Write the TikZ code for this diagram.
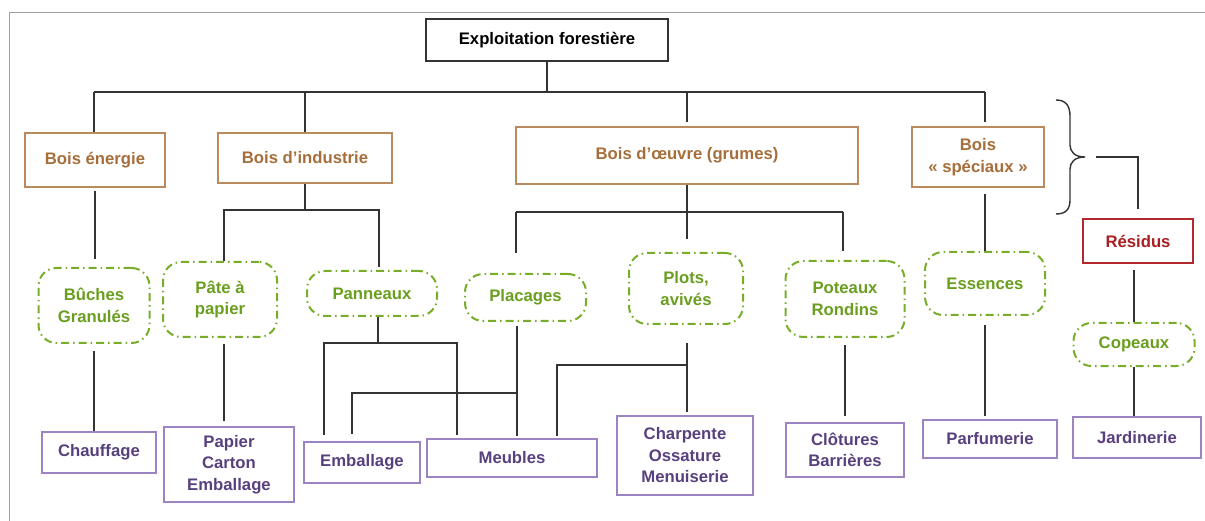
\documentclass[tikz,border=0pt]{standalone}
\usepackage{fontspec}
\setmainfont{Liberation Sans}
\usetikzlibrary{calc}
\definecolor{brn}{HTML}{A66E3A}
\definecolor{brnb}{HTML}{B88A5E}
\definecolor{grn}{HTML}{6A9E1F}
\definecolor{grnb}{HTML}{78AD2A}
\definecolor{pur}{HTML}{58407E}
\definecolor{purb}{HTML}{9C84C2}
\definecolor{rdt}{HTML}{A81E22}
\definecolor{rdb}{HTML}{B3282C}
\definecolor{ln}{HTML}{333333}
\definecolor{frm}{HTML}{A0A0A0}
\begin{document}
\begin{tikzpicture}[x=1pt,y=-1pt,
 txt/.style={font=\bfseries\fontsize{16.7}{21.5}\selectfont, align=center, inner sep=0pt},
 rootbox/.style={txt, draw=ln, line width=1.5pt, text=black},
 brownbox/.style={txt, draw=brnb, line width=1.5pt, text=brn},
 greenbox/.style={txt, draw=grnb, line width=2pt, text=grn, rounded corners=18pt, dash pattern=on 8pt off 4pt on 1.5pt off 4pt},
 purplebox/.style={txt, draw=purb, line width=1.5pt, text=pur},
 redbox/.style={txt, draw=rdb, line width=1.8pt, text=rdt},
 conn/.style={draw=ln, line width=1.5pt},
]
\useasboundingbox (0,0) rectangle (1205,521);
\draw[frm, line width=0.8pt] (9,521) -- (9,12.5) -- (1205,12.5);

% level 0 and 1
\node[rootbox, minimum width=242pt, minimum height=42pt] (root) at (547,40) {Exploitation forestière};
\node[brownbox, minimum width=140pt, minimum height=54pt] (BE) at (95,160) {Bois énergie};
\node[brownbox, minimum width=174pt, minimum height=50pt] (BI) at (305,158) {Bois d’industrie};
\node[brownbox, minimum width=342pt, minimum height=57pt] (BO) at (687,155.5) {Bois d’œuvre (grumes)};
\node[brownbox, minimum width=132pt, minimum height=60pt] (BS) at (978,157) {Bois\\« spéciaux »};
\node[redbox, minimum width=110pt, minimum height=44pt] (RES) at (1138,241) {Résidus};

% level 2 (green)
\node[greenbox, minimum width=111pt, minimum height=75pt] (G1) at (94,305.5) {Bûches\\Granulés};
\node[greenbox, minimum width=114pt, minimum height=75pt] (G2) at (220,299.5) {Pâte à\\papier};
\node[greenbox, minimum width=130pt, minimum height=45pt] (G3) at (372,293.5) {Panneaux};
\node[greenbox, minimum width=121pt, minimum height=47pt] (G4) at (525.5,297.5) {Placages};
\node[greenbox, minimum width=114pt, minimum height=71pt] (G5) at (686,288.5) {Plots,\\avivés};
\node[greenbox, minimum width=119pt, minimum height=76pt] (G6) at (845,299) {Poteaux\\Rondins};
\node[greenbox, minimum width=120pt, minimum height=63pt] (G7) at (985,283.5) {Essences};
\node[greenbox, minimum width=121pt, minimum height=43pt] (G8) at (1134,344.5) {Copeaux};

% level 3 (purple)
\node[purplebox, minimum width=114pt, minimum height=41pt] (P1) at (99,452.5) {Chauffage};
\node[purplebox, minimum width=130pt, minimum height=75pt] (P2) at (229,464.5) {Papier\\Carton\\Emballage};
\node[purplebox, minimum width=116pt, minimum height=41pt] (P3) at (362,462.5) {Emballage};
\node[purplebox, minimum width=170pt, minimum height=38pt] (P4) at (512,458) {Meubles};
\node[purplebox, minimum width=136pt, minimum height=79pt] (P5) at (685,455.5) {Charpente\\Ossature\\Menuiserie};
\node[purplebox, minimum width=118pt, minimum height=54pt] (P6) at (845,450) {Clôtures\\Barrières};
\node[purplebox, minimum width=134pt, minimum height=38pt] (P7) at (990,439) {Parfumerie};
\node[purplebox, minimum width=128pt, minimum height=41pt] (P8) at (1137,437.5) {Jardinerie};

% top bus
\coordinate (busL) at (94,92);
\coordinate (busR) at (985,92);
\draw[conn] (root.south) -- (root.south |- busL);
\draw[conn] (busL) -- (busR);
\draw[conn] (busL) -- (busL |- BE.north);
\draw[conn] (BI.north |- busL) -- (BI.north);
\draw[conn, shorten >=4pt] (BO.north |- busL) -- (BO.north);
\draw[conn, shorten >=4pt] (busR) -- (busR |- BS.north);

% Bois energie -> Buches
\draw[conn, shorten <=3pt, shorten >=8pt] (BE.south) -- (BE.south |- G1.north);

% Bois d'industrie
\coordinate (biL) at (224,210);
\coordinate (biR) at (379,210);
\draw[conn] (BI.south) -- (BI.south |- biL);
\draw[conn, shorten >=3pt] (biL |- G2.north) -- (biL) -- (biR) -- (biR |- G3.north);

% Bois d'oeuvre
\coordinate (boL) at (516,212);
\coordinate (boR) at (843,212);
\draw[conn] (BO.south) -- (BO.south |- boL);
\draw[conn] (boL) -- (boR);
\draw[conn, shorten >=20pt] (boL) -- (boL |- G4.north);
\draw[conn, shorten >=13pt] (BO.south |- boL) -- (BO.south |- G5.north);
\draw[conn, shorten >=9pt] (boR) -- (boR |- G6.north);

% Bois speciaux -> Essences
\draw[conn, shorten <=6pt] (G7.north |- BS.south) -- (G7.north);

% brace and Residus
\draw[ln, line width=1.4pt] (1056,100) .. controls (1066,100) and (1070,106) .. (1070,116) -- (1070,145)
  .. controls (1070,152) and (1075,157) .. (1085,157)
  .. controls (1075,157) and (1070,162) .. (1070,169) -- (1070,200)
  .. controls (1070,209) and (1066,214) .. (1056,214);
\coordinate (bt) at (1096,157);
\draw[conn, shorten >=9pt] (bt) -| (RES.north);
\draw[conn, shorten <=6pt] (G8.north |- RES.south) -- (G8.north);

% green -> purple
\draw[conn, shorten <=7pt] (G1.south) -- (G1.south |- P1.north);
\draw[conn, shorten <=6pt, shorten >=5pt] (biL |- G2.south) -- (biL |- P2.north);

\coordinate (pnJ) at (378,343);
\coordinate (pnL) at (324,343);
\coordinate (pnR) at (457,343);
\draw[conn] (pnJ |- G3.south) -- (pnJ);
\draw[conn, shorten <=6pt, shorten >=3pt] (pnL |- P3.north) -- (pnL) -- (pnR) -- (pnR |- P4.north);

\coordinate (plX) at (517,393);
\coordinate (plL) at (352,393);
\draw[conn, shorten <=4pt, shorten >=2pt] (plX |- G4.south) -- (plX |- P4.north);
\draw[conn, shorten >=7pt] (plX) -- (plL) -- (plL |- P3.north);

\coordinate (ptX) at (687,365);
\coordinate (ptL) at (557,365);
\draw[conn, shorten <=18pt, shorten >=3pt] (ptX |- G5.south) -- (ptX |- P5.north);
\draw[conn, shorten >=2pt] (ptX) -- (ptL) -- (ptL |- P4.north);

\draw[conn, shorten <=7pt, shorten >=6pt] (G6.south) -- (G6.south |- P6.north);
\draw[conn, shorten <=9pt, shorten >=3pt] (G7.south) -- (G7.south |- P7.north);
\draw[conn] (G8.south) -- (G8.south |- P8.north);
\end{tikzpicture}
\end{document}
